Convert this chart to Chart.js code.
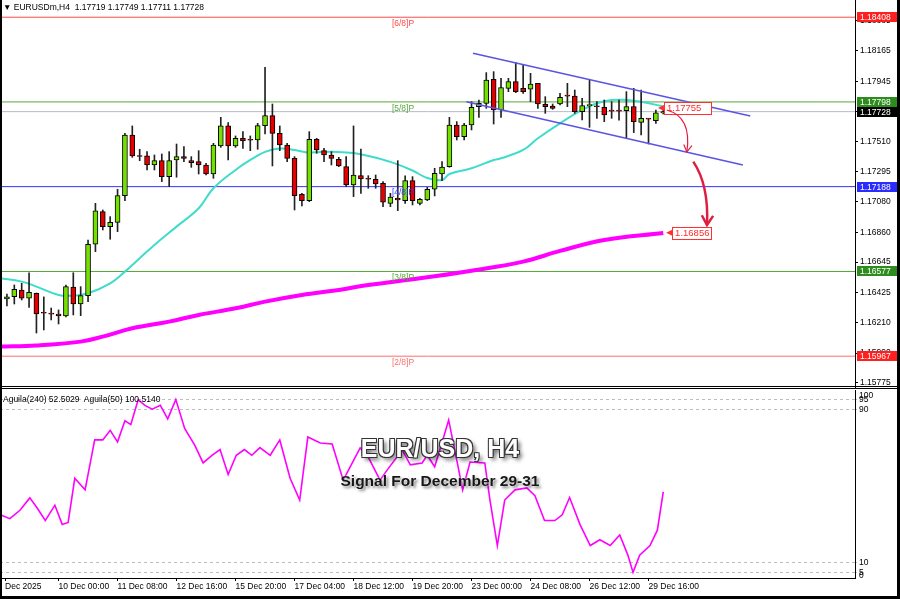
<!DOCTYPE html>
<html>
<head>
<meta charset="utf-8">
<script src="https://cdn.jsdelivr.net/npm/chart.js@4.4.1/dist/chart.umd.min.js"></script>
<style>
html, body { margin: 0; padding: 0; background: #fff; }
#wrap { position: relative; width: 900px; height: 599px; overflow: hidden; background: #fff; font-family: "Liberation Sans", Arial, sans-serif; }
#main { position: absolute; left: 0; top: 0; }
#ind { position: absolute; left: 0; top: 389px; }
.txt { position: absolute; white-space: nowrap; color: #000; font-size: 8.5px; line-height: 10px; }
#hdr { left: 3px; top: 2px; }
#ilbl { left: 3px; top: 394px; }
#t1 { left: 0; width: 880px; top: 435px; text-align: center; font: bold 25px/26px "Liberation Sans", Arial, sans-serif; color: #fff;
  text-shadow: -1px -1px 0 #333, 1px -1px 0 #333, -1px 1px 0 #333, 1px 1px 0 #333, 3px 3px 4px rgba(0,0,0,.65); }
#t2 { left: 0; width: 880px; top: 473px; text-align: center; font: bold 15.5px/16px "Liberation Sans", Arial, sans-serif; color: #161616;
  text-shadow: 0 0 2px #fff, 2px 2px 3px rgba(0,0,0,.55); }
.bar { position: absolute; background: #000; }
</style>
</head>
<body>
<div id="wrap">
  <canvas id="main" width="900" height="388"></canvas>
  <canvas id="ind" width="900" height="207"></canvas>
  <div class="bar" style="left:0;top:386px;width:900px;height:1px;"></div>
  <div class="bar" style="left:0;top:388px;width:900px;height:1px;"></div>
  <div class="bar" style="left:0;top:0;width:2px;height:599px;"></div>
  <div class="bar" style="left:897px;top:0;width:3px;height:599px;"></div>
  <div class="bar" style="left:0;top:596px;width:900px;height:3px;"></div>
  <div id="hdr" class="txt">&#9660; EURUSDm,H4&nbsp; 1.17719 1.17749 1.17711 1.17728</div>
  <div id="ilbl" class="txt">Aguila(240) 52.5029&nbsp; Aguila(50) 100.5140</div>
  <div id="t1" class="txt">EUR/USD, H4</div>
  <div id="t2" class="txt">Signal For December 29-31</div>
</div>
<script>
// H4 candles, index 0 = first visible bar (9 Dec 2025)
const opens = [1.16379,1.16396,1.16444,1.16384,1.16420,1.16278,1.16271,1.16271,1.16257,1.16464,
  1.16343,1.16403,1.16773,1.17008,1.16900,1.16931,1.17123,1.17560,1.17410,1.17409,
  1.17344,1.17375,1.17260,1.17380,1.17404,1.17375,1.17368,1.17344,1.17279,1.17481,
  1.17625,1.17481,1.17536,1.17524,1.17524,1.17627,1.17699,1.17572,1.17488,1.17392,
  1.17133,1.17087,1.17529,1.17447,1.17416,1.17385,1.17332,1.17200,1.17267,1.17243,
  1.17240,1.17212,1.17068,1.17104,1.17087,1.17231,1.17068,1.17092,1.17169,1.17279,
  1.17332,1.17632,1.17548,1.17632,1.17764,1.17788,1.17961,1.17740,1.17896,1.17944,
  1.17896,1.17889,1.17932,1.17781,1.17769,1.17783,1.17841,1.17841,1.17728,1.17771,
  1.17764,1.17759,1.17733,1.17733,1.17735,1.17764,1.17651,1.17675,1.17663,1.17719];
const highs = [1.16415,1.16480,1.16492,1.16568,1.16422,1.16394,1.16314,1.16300,1.16480,1.16568,
  1.16468,1.16804,1.17068,1.17020,1.16972,1.17169,1.17572,1.17625,1.17457,1.17440,
  1.17416,1.17423,1.17440,1.17495,1.17476,1.17404,1.17447,1.17356,1.17500,1.17687,
  1.17649,1.17553,1.17584,1.17553,1.17644,1.18047,1.17783,1.17625,1.17500,1.17404,
  1.17140,1.17584,1.17536,1.17464,1.17440,1.17399,1.17404,1.17625,1.17459,1.17267,
  1.17272,1.17224,1.17140,1.17375,1.17265,1.17260,1.17104,1.17184,1.17320,1.17368,
  1.17687,1.17656,1.17644,1.17800,1.17812,1.18009,1.18016,1.17968,1.17968,1.18081,
  1.18064,1.18004,1.17932,1.17836,1.17783,1.17860,1.17932,1.17884,1.17824,1.17961,
  1.17800,1.17812,1.17800,1.17812,1.17872,1.17896,1.17884,1.17680,1.17740,1.17749];
const lows = [1.16329,1.16343,1.16372,1.16319,1.16134,1.16156,1.16228,1.16199,1.16250,1.16264,
  1.16259,1.16360,1.16720,1.16876,1.16809,1.16864,1.17087,1.17399,1.17375,1.17308,
  1.17308,1.17224,1.17188,1.17256,1.17368,1.17327,1.17279,1.17272,1.17248,1.17471,
  1.17380,1.17471,1.17464,1.17447,1.17457,1.17567,1.17337,1.17447,1.17368,1.17020,
  1.17049,1.17080,1.17428,1.17368,1.17344,1.17332,1.17188,1.17116,1.17140,1.17176,
  1.17176,1.17044,1.17044,1.17015,1.17068,1.17056,1.17056,1.17087,1.17121,1.17231,
  1.17328,1.17524,1.17524,1.17596,1.17687,1.17752,1.17639,1.17687,1.17872,1.17865,
  1.17860,1.17800,1.17752,1.17716,1.17745,1.17776,1.17764,1.17716,1.17668,1.17615,
  1.17680,1.17656,1.17680,1.17666,1.17536,1.17577,1.17560,1.17495,1.17644,1.17711];
const closes = [1.16394,1.16449,1.16384,1.16427,1.16271,1.16276,1.16270,1.16257,1.16468,1.16343,
  1.16403,1.16773,1.17013,1.16900,1.16931,1.17123,1.17560,1.17409,1.17405,1.17344,
  1.17375,1.17260,1.17375,1.17404,1.17392,1.17361,1.17344,1.17279,1.17488,1.17625,
  1.17481,1.17536,1.17517,1.17522,1.17627,1.17699,1.17572,1.17488,1.17392,1.17123,
  1.17087,1.17529,1.17452,1.17416,1.17392,1.17337,1.17200,1.17272,1.17243,1.17241,
  1.17208,1.17076,1.17112,1.17092,1.17231,1.17087,1.17097,1.17169,1.17284,1.17328,
  1.17632,1.17548,1.17632,1.17759,1.17788,1.17956,1.17740,1.17901,1.17944,1.17872,
  1.17872,1.17927,1.17783,1.17764,1.17752,1.17832,1.17840,1.17728,1.17771,1.17774,
  1.17763,1.17704,1.17732,1.17732,1.17764,1.17656,1.17680,1.17674,1.17720,1.17728];

// fast MA (cyan) and slow MA (magenta), read at bar indices
const maFastIdx = [-1,2,4,7,9,11,14,16,18,20,23,26,28,31,33,35,37,39,41,44,47,49,52,55,57,59,60,63,66,67,70,72,75,78,80,82,84,86,89];
const maFast = [1.16528,1.16504,1.16468,1.16408,1.16403,1.16420,1.16492,1.16576,1.16672,1.16768,1.16900,1.17032,1.17176,1.17308,1.17380,1.17438,1.17463,1.17452,1.17434,1.17440,1.17430,1.17409,1.17366,1.17304,1.17250,1.17236,1.17279,1.17320,1.17380,1.17392,1.17452,1.17536,1.17644,1.17740,1.17788,1.17812,1.17812,1.17800,1.17765];
const maSlowIdx = [-1,4,10,13,17,22,26,31,35,40,45,49,56,63,70,75,81,89];
const maSlow = [1.16036,1.16044,1.16072,1.16108,1.16168,1.16216,1.16264,1.16312,1.16360,1.16408,1.16444,1.16480,1.16528,1.16583,1.16648,1.16725,1.16804,1.16854];

// descending channel
const chanIdx = [63.2, 100.8];
const chanUpper = [1.18148, 1.17697];
const chanLowerIdx = [62.3, 99.8];
const chanLower = [1.17800, 1.17344];

// Murrey levels
const levelValues = [1.18408, 1.17798, 1.17188, 1.16577, 1.15967];
const levelNames = ['[6/8]P', '[5/8]P', '[4/8]P', '[3/8]P', '[2/8]P'];
const levelColors = ['#ff4a4a', '#56a83a', '#3434ff', '#56a83a', '#ff6f6f'];
const lastPrice = 1.17728;
const markerValues = [1.18408, 1.17798, 1.17728, 1.17188, 1.16577, 1.15967];
const markerColors = ['#ff1f1f', '#2e8c1e', '#000000', '#2b2bff', '#2e8c1e', '#ff1f1f'];

// price axis labels
const priceTicks = [1.18385, 1.18165, 1.17945, 1.17730, 1.17510, 1.17295, 1.17080, 1.16860, 1.16645, 1.16425, 1.16210, 1.15990, 1.15775];

// time axis
const timeTickIdx = [-0.26, 7, 15, 23, 31, 39, 47, 55, 63, 71, 79, 87];
const timeTickLabels = ['Dec 2025', '10 Dec 00:00', '11 Dec 08:00', '12 Dec 16:00', '15 Dec 20:00', '17 Dec 04:00', '18 Dec 12:00', '19 Dec 20:00', '23 Dec 00:00', '24 Dec 08:00', '26 Dec 12:00', '29 Dec 16:00'];

// Aguila(50) oscillator
const aguilaIdx = [-0.9,0.4,1.8,3.1,4.1,5.2,6.5,7.5,8.3,9.2,10.6,11.9,13,14,15,16,16.8,17.8,18.7,19.7,
  20.8,21.8,22.9,24.1,25.5,26.6,27.8,28.9,30,31.1,32.2,33.2,34.3,35.7,37,38.4,39.7,40.8,42.5,44.1,
  45.6,47.9,49,50.6,51.5,53.6,54.7,56.3,57,58,59.1,59.9,61,61.8,62.8,64.8,65.5,66.5,67.5,68.9,
  70.5,71.6,72.9,74.3,75.3,76.3,77.7,79.1,80.4,81.8,83.1,84.2,84.9,85.8,87.2,88.2,89];
const aguilaVals = [35,33,37.5,43.8,38.5,32,40,30,31,54,48,74,74,79,73,84,82,95,92,90,
  92,85,95,80,71,62,66,69,56,66,69,66,70,66,74,54,42.7,75.5,72.4,71.9,
  53,69.8,65,53,58,68.8,61,62,66,60,74,84.4,63.5,48,62.5,62,42.7,19,42.7,48,
  49,45,32,32,35,44,30,19,22,19,24.5,14,5,14,19,27,47];
const aguilaLevels = [95, 90, 10, 5];

const upColor = '#74e000';
const downColor = '#e20000';
const axisFont = { family: '"Liberation Sans", Arial, sans-serif', size: 8.5 };
const xMin = -0.94, xMax = 115;

const bodyData = opens.map((o, i) => ({ x: i, y: [o, closes[i]] }));
const wickData = highs.map((h, i) => ({ x: i, y: [lows[i], h] }));
const bodyColors = opens.map((o, i) => closes[i] > o ? upColor : (closes[i] < o ? downColor : '#000'));

function flatLine(v, color, label) {
    return {
        type: 'line', label: label, order: 10,
        data: [{ x: xMin, y: v }, { x: xMax, y: v }],
        borderColor: color, borderWidth: 1, pointRadius: 0
    };
}

// keep the plot area flush with the canvas edges (MT4 style)
function noPad(s) {
    s.paddingTop = 0; s.paddingBottom = 0; s.paddingLeft = 0; s.paddingRight = 0;
}

const mt4Overlay = {
    id: 'mt4Overlay',
    afterDatasetsDraw(chart) {
        const c = chart.ctx, xs = chart.scales.x, ys = chart.scales.y;
        c.save();
        // level captions
        c.font = '8.5px "Liberation Sans", Arial, sans-serif';
        c.textBaseline = 'top';
        c.textAlign = 'left';
        levelValues.forEach((v, k) => {
            c.fillStyle = levelColors[k];
            c.fillText(levelNames[k], xs.getPixelForValue(52.2), ys.getPixelForValue(v) + 2);
        });

        // price tags near the last candle
        const tags = [[89.1, 95.5, 1.17755, '1.17755'], [90.2, 95.5, 1.16856, '1.16856']];
        c.font = '9.5px "Liberation Sans", Arial, sans-serif';
        c.textBaseline = 'middle';
        tags.forEach(t => {
            const l = xs.getPixelForValue(t[0]), r = xs.getPixelForValue(t[1]), y = ys.getPixelForValue(t[2]);
            c.fillStyle = '#fff';
            c.fillRect(l, y - 6, r - l, 12);
            c.strokeStyle = '#ff3030';
            c.lineWidth = 1;
            c.strokeRect(Math.round(l) + 0.5, Math.round(y - 6) + 0.5, Math.round(r - l), 12);
            c.beginPath();
            c.moveTo(l - 6, y); c.lineTo(l, y - 3); c.lineTo(l, y + 3); c.closePath();
            c.fillStyle = '#ff3030'; c.fill();
            c.fillStyle = '#ff2a2a';
            c.fillText(t[3], l + 3, y + 0.5);
        });

        // arrows
        const arrows = [
            [89.47, 1.17740, 92.9, 1.17690, 92.2, 1.17438, 1.2],
            [93.07, 1.17368, 95.2, 1.17200, 94.93, 1.16912, 2.5]
        ];
        c.strokeStyle = '#dd2040';
        c.fillStyle = '#dd2040';
        arrows.forEach(a => {
            const x0 = xs.getPixelForValue(a[0]), y0 = ys.getPixelForValue(a[1]);
            const cx = xs.getPixelForValue(a[2]), cy = ys.getPixelForValue(a[3]);
            const x1 = xs.getPixelForValue(a[4]), y1 = ys.getPixelForValue(a[5]);
            c.lineWidth = a[6];
            c.beginPath();
            c.moveTo(x0, y0);
            c.quadraticCurveTo(cx, cy, x1, y1);
            c.stroke();
            const ang = Math.atan2(y1 - cy, x1 - cx);
            const hl = a[6] > 2 ? 11 : 8;
            c.beginPath();
            c.moveTo(x1 + Math.cos(ang + 2.6) * hl, y1 + Math.sin(ang + 2.6) * hl);
            c.lineTo(x1, y1);
            c.lineTo(x1 + Math.cos(ang - 2.6) * hl, y1 + Math.sin(ang - 2.6) * hl);
            c.stroke();
        });
        c.restore();
    },
    afterDraw(chart) {
        const c = chart.ctx, ys = chart.scales.y;
        c.save();
        c.font = '8.5px "Liberation Sans", Arial, sans-serif';
        c.textBaseline = 'middle';
        c.textAlign = 'left';
        markerValues.forEach((v, k) => {
            const y = Math.round(ys.getPixelForValue(v));
            c.fillStyle = markerColors[k];
            c.fillRect(857, y - 5, 41, 10);
            c.fillStyle = '#fff';
            c.fillText(v.toFixed(5), 860, y + 0.5);
        });
        c.restore();
    }
};

new Chart(document.getElementById('main').getContext('2d'), {
    type: 'bar',
    data: {
        datasets: [
            ...levelValues.map((v, k) => flatLine(v, levelColors[k], levelNames[k])),
            flatLine(lastPrice, '#b4bac8', 'bid'),
            {
                type: 'line', label: 'MA slow', order: 6,
                data: maSlowIdx.map((x, k) => ({ x: x, y: maSlow[k] })),
                borderColor: '#ff00ff', borderWidth: 4, pointRadius: 0, tension: 0.4
            },
            {
                type: 'line', label: 'MA fast', order: 5,
                data: maFastIdx.map((x, k) => ({ x: x, y: maFast[k] })),
                borderColor: '#3fdccc', borderWidth: 2, pointRadius: 0, tension: 0.4
            },
            {
                type: 'bar', label: 'wick', order: 3, grouped: false,
                data: wickData, backgroundColor: '#222', borderWidth: 0, barThickness: 1
            },
            {
                type: 'bar', label: 'body', order: 2, grouped: false,
                data: bodyData, backgroundColor: bodyColors, borderColor: '#000', borderWidth: 1,
                borderSkipped: false, barThickness: 5, minBarLength: 1
            },
            {
                type: 'line', label: 'upper', order: 1,
                data: chanIdx.map((x, k) => ({ x: x, y: chanUpper[k] })),
                borderColor: '#5a54e4', borderWidth: 1.5, pointRadius: 0
            },
            {
                type: 'line', label: 'lower', order: 1,
                data: chanLowerIdx.map((x, k) => ({ x: x, y: chanLower[k] })),
                borderColor: '#5a54e4', borderWidth: 1.5, pointRadius: 0
            }
        ]
    },
    options: {
        responsive: false,
        animation: false,
        events: [],
        layout: { padding: 0 },
        plugins: { legend: { display: false }, tooltip: { enabled: false } },
        scales: {
            x: { type: 'linear', min: xMin, max: xMax, offset: false, display: false },
            y: {
                position: 'right',
                min: 1.15738, max: 1.18532,
                afterFit: s => { s.width = 45; noPad(s); },
                afterBuildTicks: s => { s.ticks = priceTicks.map(v => ({ value: v })); },
                grid: { drawOnChartArea: false, drawTicks: true, tickLength: 3, color: '#000' },
                border: { display: true, color: '#000', width: 1 },
                ticks: {
                    autoSkip: false, padding: 2, color: '#000', font: axisFont,
                    callback: v => v.toFixed(5)
                }
            }
        }
    },
    plugins: [mt4Overlay]
});

const indLabels = {
    id: 'indLabels',
    afterDraw(chart) {
        const c = chart.ctx, ys = chart.scales.y;
        c.save();
        c.font = '8.5px "Liberation Sans", Arial, sans-serif';
        c.fillStyle = '#000';
        c.textAlign = 'left';
        c.textBaseline = 'top';
        c.fillText('100', 859, ys.getPixelForValue(100) + 1);
        c.textBaseline = 'bottom';
        c.fillText('0', 859, chart.chartArea.bottom + 2);
        c.restore();
    }
};

new Chart(document.getElementById('ind').getContext('2d'), {
    type: 'line',
    data: {
        datasets: [{
            label: 'Aguila(50)',
            data: aguilaIdx.map((x, k) => ({ x: x, y: aguilaVals[k] })),
            borderColor: '#ff00ff', borderWidth: 1.6, pointRadius: 0, tension: 0
        }]
    },
    options: {
        responsive: false,
        animation: false,
        events: [],
        layout: { padding: { top: 1 } },
        plugins: { legend: { display: false }, tooltip: { enabled: false } },
        scales: {
            x: {
                type: 'linear', min: xMin, max: xMax, offset: false,
                afterFit: s => { s.height = 18; noPad(s); },
                afterBuildTicks: s => { s.ticks = timeTickIdx.map(v => ({ value: v })); },
                grid: { drawOnChartArea: false, drawTicks: true, tickLength: 3, color: '#000' },
                border: { display: true, color: '#000' },
                ticks: {
                    autoSkip: false, maxRotation: 0, align: 'start', padding: 1, color: '#000', font: axisFont,
                    callback: v => timeTickLabels[timeTickIdx.indexOf(v)]
                }
            },
            y: {
                position: 'right',
                min: 2.08, max: 100,
                afterFit: s => { s.width = 45; noPad(s); },
                afterBuildTicks: s => { s.ticks = aguilaLevels.map(v => ({ value: v })); },
                grid: { drawOnChartArea: true, drawTicks: true, tickLength: 2, color: '#bdbdbd' },
                border: { display: true, color: '#000', dash: [3, 3] },
                ticks: { autoSkip: false, padding: 2, color: '#000', font: axisFont }
            }
        }
    },
    plugins: [indLabels]
});
</script>
</body>
</html>
